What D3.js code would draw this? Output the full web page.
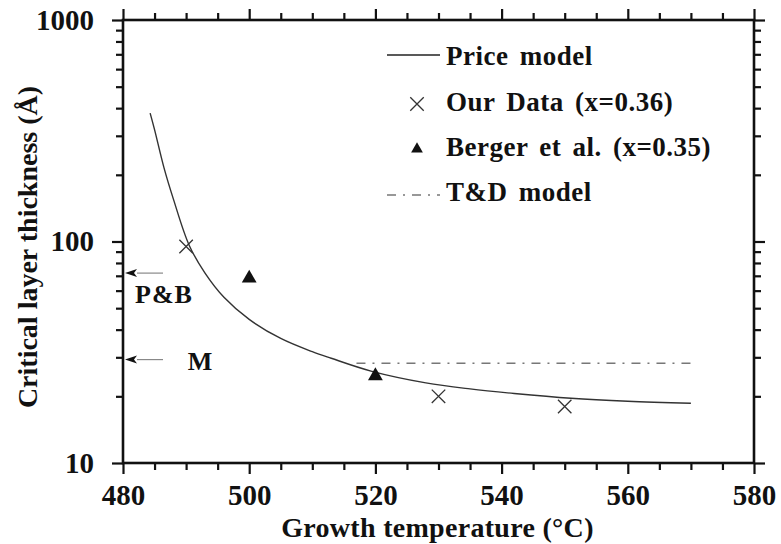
<!DOCTYPE html>
<html>
<head>
<meta charset="utf-8">
<script src="https://cdn.jsdelivr.net/npm/d3@7"></script>
<style>
  body { margin: 0; background: #fff; }
  svg { display: block; }
  text { font-family: "Liberation Serif", "Times New Roman", serif; font-weight: bold; fill: #111; }
</style>
</head>
<body>
<svg id="chart" width="781" height="544"></svg>
<script>
// ---- Data ----
const priceT = [484.3, 485, 486.5, 488, 490.5, 493, 496, 500, 505, 510, 513, 519.3, 528, 535, 542, 551, 560, 570];
const priceV = [380, 320, 215, 155, 96, 72, 56, 44.5, 36.5, 31.8, 29.7, 26, 23, 21.6, 20.6, 19.6, 19.0, 18.6];
const ourT = [490, 530, 550];
const ourV = [95, 20, 18];
const bergerT = [500, 520];
const bergerV = [69, 25];
const tdT = [517, 570];
const tdV = [28.2, 28.2];
const xTicks = [480, 500, 520, 540, 560, 580];
const xMinor = [485, 490, 495, 505, 510, 515, 525, 530, 535, 545, 550, 555, 565, 570, 575];
const yTicks = [10, 100, 1000];
const yMinor = [20, 30, 40, 50, 60, 70, 80, 90, 200, 300, 400, 500, 600, 700, 800, 900];
const annLabels = ["P&B", "M"];
const annValues = [72, 29.3];
const legendLabels = ["Price model", "Our Data (x=0.36)", "Berger et al. (x=0.35)", "T&D model"];
const xTitle = "Growth temperature (°C)";
const yTitle = "Critical layer thickness (Å)";

// ---- Layout ----
const L = 123, R = 754, T = 20, B = 463;
const svg = d3.select("#chart");
const x = d3.scaleLinear().domain([480, 580]).range([L, R]);
const y = d3.scaleLog().domain([10, 1000]).range([B, T]);

function styleAxis(g) {
  g.select(".domain").remove();
  g.selectAll(".tick line").attr("stroke", "#111").attr("stroke-width", 2.2);
  g.selectAll(".tick text").style("font-size", "29px").attr("fill", "#111");
}

// bottom
svg.append("g").attr("transform", `translate(0,${B})`)
  .call(d3.axisBottom(x).tickValues(xMinor).tickSize(7).tickFormat(""))
  .call(styleAxis);
svg.append("g").attr("transform", `translate(0,${B})`)
  .call(d3.axisBottom(x).tickValues(xTicks).tickSize(11).tickPadding(10).tickFormat(d3.format("d")))
  .call(styleAxis);
// top
svg.append("g").attr("transform", `translate(0,${T})`)
  .call(d3.axisTop(x).tickValues(xMinor).tickSize(7).tickFormat(""))
  .call(styleAxis);
svg.append("g").attr("transform", `translate(0,${T})`)
  .call(d3.axisTop(x).tickValues(xTicks).tickSize(11).tickFormat(""))
  .call(styleAxis);
// left
svg.append("g").attr("transform", `translate(${L},0)`)
  .call(d3.axisLeft(y).tickValues(yMinor).tickSize(7).tickFormat(""))
  .call(styleAxis);
svg.append("g").attr("transform", `translate(${L},0)`)
  .call(d3.axisLeft(y).tickValues(yTicks).tickSize(11).tickPadding(18).tickFormat(d3.format("d")))
  .call(styleAxis);
// right
svg.append("g").attr("transform", `translate(${R},0)`)
  .call(d3.axisRight(y).tickValues(yMinor).tickSize(7).tickFormat(""))
  .call(styleAxis);
svg.append("g").attr("transform", `translate(${R},0)`)
  .call(d3.axisRight(y).tickValues(yTicks).tickSize(11).tickFormat(""))
  .call(styleAxis);

// frame
svg.append("rect").attr("x", L).attr("y", T).attr("width", R - L).attr("height", B - T)
  .attr("fill", "none").attr("stroke", "#111").attr("stroke-width", 2.6);

// axis titles
svg.append("text").attr("x", (L + R) / 2 - 1).attr("y", 537).attr("text-anchor", "middle")
  .style("font-size", "28px").style("letter-spacing", "0.3px").text(xTitle);
svg.append("text").attr("transform", `translate(37,${247}) rotate(-90)`).attr("text-anchor", "middle")
  .style("font-size", "28px").text(yTitle);

// Price model curve
const priceData = priceT.map((t, i) => [t, priceV[i]]);
svg.append("path").datum(priceData)
  .attr("fill", "none").attr("stroke", "#333").attr("stroke-width", 1.4)
  .attr("d", d3.line().x(d => x(d[0])).y(d => y(d[1])).curve(d3.curveCatmullRom.alpha(0.5)));

// T&D model
const tdData = tdT.map((t, i) => [t, tdV[i]]);
svg.append("path").datum(tdData)
  .attr("fill", "none").attr("stroke", "#777").attr("stroke-width", 1.6)
  .attr("stroke-dasharray", "9,7,2,7")
  .attr("d", d3.line().x(d => x(d[0])).y(d => y(d[1])));

// Our data crosses
const cross = d3.symbol().type(d3.symbolX).size(120);
svg.selectAll(".our").data(ourT.map((t, i) => [t, ourV[i]])).enter().append("path")
  .attr("transform", d => `translate(${x(d[0])},${y(d[1])})`)
  .attr("d", cross).attr("fill", "none").attr("stroke", "#333").attr("stroke-width", 1.3);
// Berger triangles
const tri = d3.symbol().type(d3.symbolTriangle).size(95);
svg.selectAll(".berger").data(bergerT.map((t, i) => [t, bergerV[i]])).enter().append("path")
  .attr("transform", d => `translate(${x(d[0])},${y(d[1]) + 1})`)
  .attr("d", tri).attr("fill", "#111");

// Annotations (arrows onto the y axis)
annLabels.forEach((lab, i) => {
  const yy = y(annValues[i]);
  svg.append("line").attr("x1", L + 14).attr("x2", L + 40).attr("y1", yy).attr("y2", yy)
    .attr("stroke", "#888").attr("stroke-width", 1.2);
  svg.append("path").attr("d", `M${L + 2},${yy} L${L + 14},${yy - 4} L${L + 11},${yy} L${L + 14},${yy + 4} Z`)
    .attr("fill", "#111");
});
svg.append("text").attr("x", 164).attr("y", 303).attr("text-anchor", "middle").style("font-size", "26px").style("letter-spacing", "1px").text(annLabels[0]);
svg.append("text").attr("x", 200).attr("y", 370).attr("text-anchor", "middle").style("font-size", "26px").text(annLabels[1]);

// Legend
const lx = 387, lw = 53, tx = 446;
const ly = [55, 101, 146, 191];
const lg = svg.append("g");
lg.append("line").attr("x1", lx).attr("x2", lx + lw).attr("y1", ly[0]).attr("y2", ly[0])
  .attr("stroke", "#222").attr("stroke-width", 1.6);
lg.append("path").attr("transform", `translate(${lx + 30},${ly[1] + 3})`).attr("d", cross)
  .attr("fill", "none").attr("stroke", "#333").attr("stroke-width", 1.3);
lg.append("path").attr("transform", `translate(${lx + 30},${ly[2] + 3})`).attr("d", d3.symbol().type(d3.symbolTriangle).size(60))
  .attr("fill", "#111");
lg.append("line").attr("x1", lx).attr("x2", lx + lw).attr("y1", ly[3] + 4).attr("y2", ly[3] + 4)
  .attr("stroke", "#777").attr("stroke-width", 1.6).attr("stroke-dasharray", "9,7,2,7");
legendLabels.forEach((lab, i) => {
  lg.append("text").attr("x", tx).attr("y", ly[i] + 10).style("font-size", "27px")
    .style("letter-spacing", "0.5px").style("word-spacing", "4px").text(lab);
});
</script>
</body>
</html>
